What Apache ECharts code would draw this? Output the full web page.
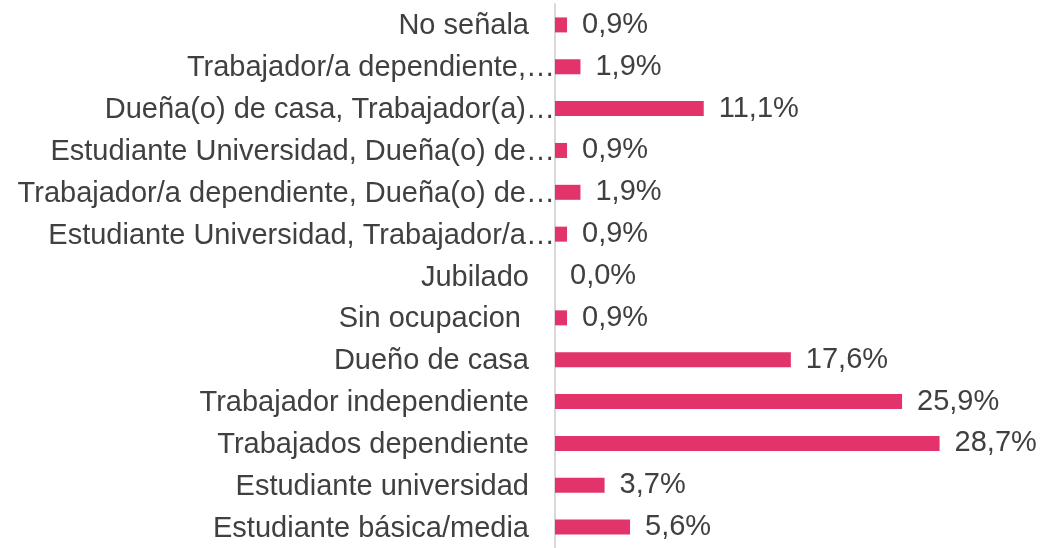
<!DOCTYPE html>
<html>
<head>
<meta charset="utf-8">
<script src="https://cdn.jsdelivr.net/npm/echarts@6/dist/echarts.min.js"></script>
<style>html,body{margin:0;padding:0;background:#fff}#c{width:1046px;height:548px}</style>
</head>
<body>
<div id="c"></div>
<script>
const categories = [
  'No señala',
  'Trabajador/a dependiente,…',
  'Dueña(o) de casa, Trabajador(a)…',
  'Estudiante Universidad, Dueña(o) de…',
  'Trabajador/a dependiente, Dueña(o) de…',
  'Estudiante Universidad, Trabajador/a…',
  'Jubilado',
  'Sin ocupacion ',
  'Dueño de casa',
  'Trabajador independiente',
  'Trabajados dependiente',
  'Estudiante universidad',
  'Estudiante básica/media'
];
const values = [0.9, 1.9, 11.1, 0.9, 1.9, 0.9, 0.0, 0.9, 17.6, 25.9, 28.7, 3.7, 5.6];

const FONT = "'Liberation Sans', Arial, sans-serif";
const chart = echarts.init(document.getElementById('c'), null, {renderer: 'canvas'});
chart.setOption({
  animation: false,
  backgroundColor: '#ffffff',
  grid: {left: 555, right: 89, top: 4, bottom: -5, containLabel: false},
  xAxis: {
    type: 'value', min: 0, max: 30,
    show: false, splitLine: {show: false}
  },
  yAxis: {
    type: 'category',
    data: categories,
    inverse: true,
    axisTick: {show: false},
    axisLine: {show: true, lineStyle: {color: '#d9d9d9', width: 2}},
    axisLabel: {
      interval: 0,
      margin: 0,
      color: '#404040',
      fontFamily: FONT,
      fontSize: 29,
      formatter: function (v) {
        return v.endsWith('…') ? '{t|' + v + '}' : '{n|' + v + '}';
      },
      rich: {
        t: {color: '#404040', fontFamily: FONT, fontSize: 29, padding: [3, 0, 0, 0]},
        n: {color: '#404040', fontFamily: FONT, fontSize: 29, padding: [3, 26, 0, 0]}
      }
    }
  },
  series: [{
    type: 'bar',
    data: values,
    barWidth: 15,
    itemStyle: {color: '#E2336A'},
    label: {
      show: true,
      position: 'right',
      distance: 15,
      padding: [3, 0, 0, 0],
      color: '#404040',
      fontFamily: FONT,
      fontSize: 29,
      formatter: function (p) { return p.value.toFixed(1).replace('.', ',') + '%'; }
    }
  }]
});
</script>
</body>
</html>
